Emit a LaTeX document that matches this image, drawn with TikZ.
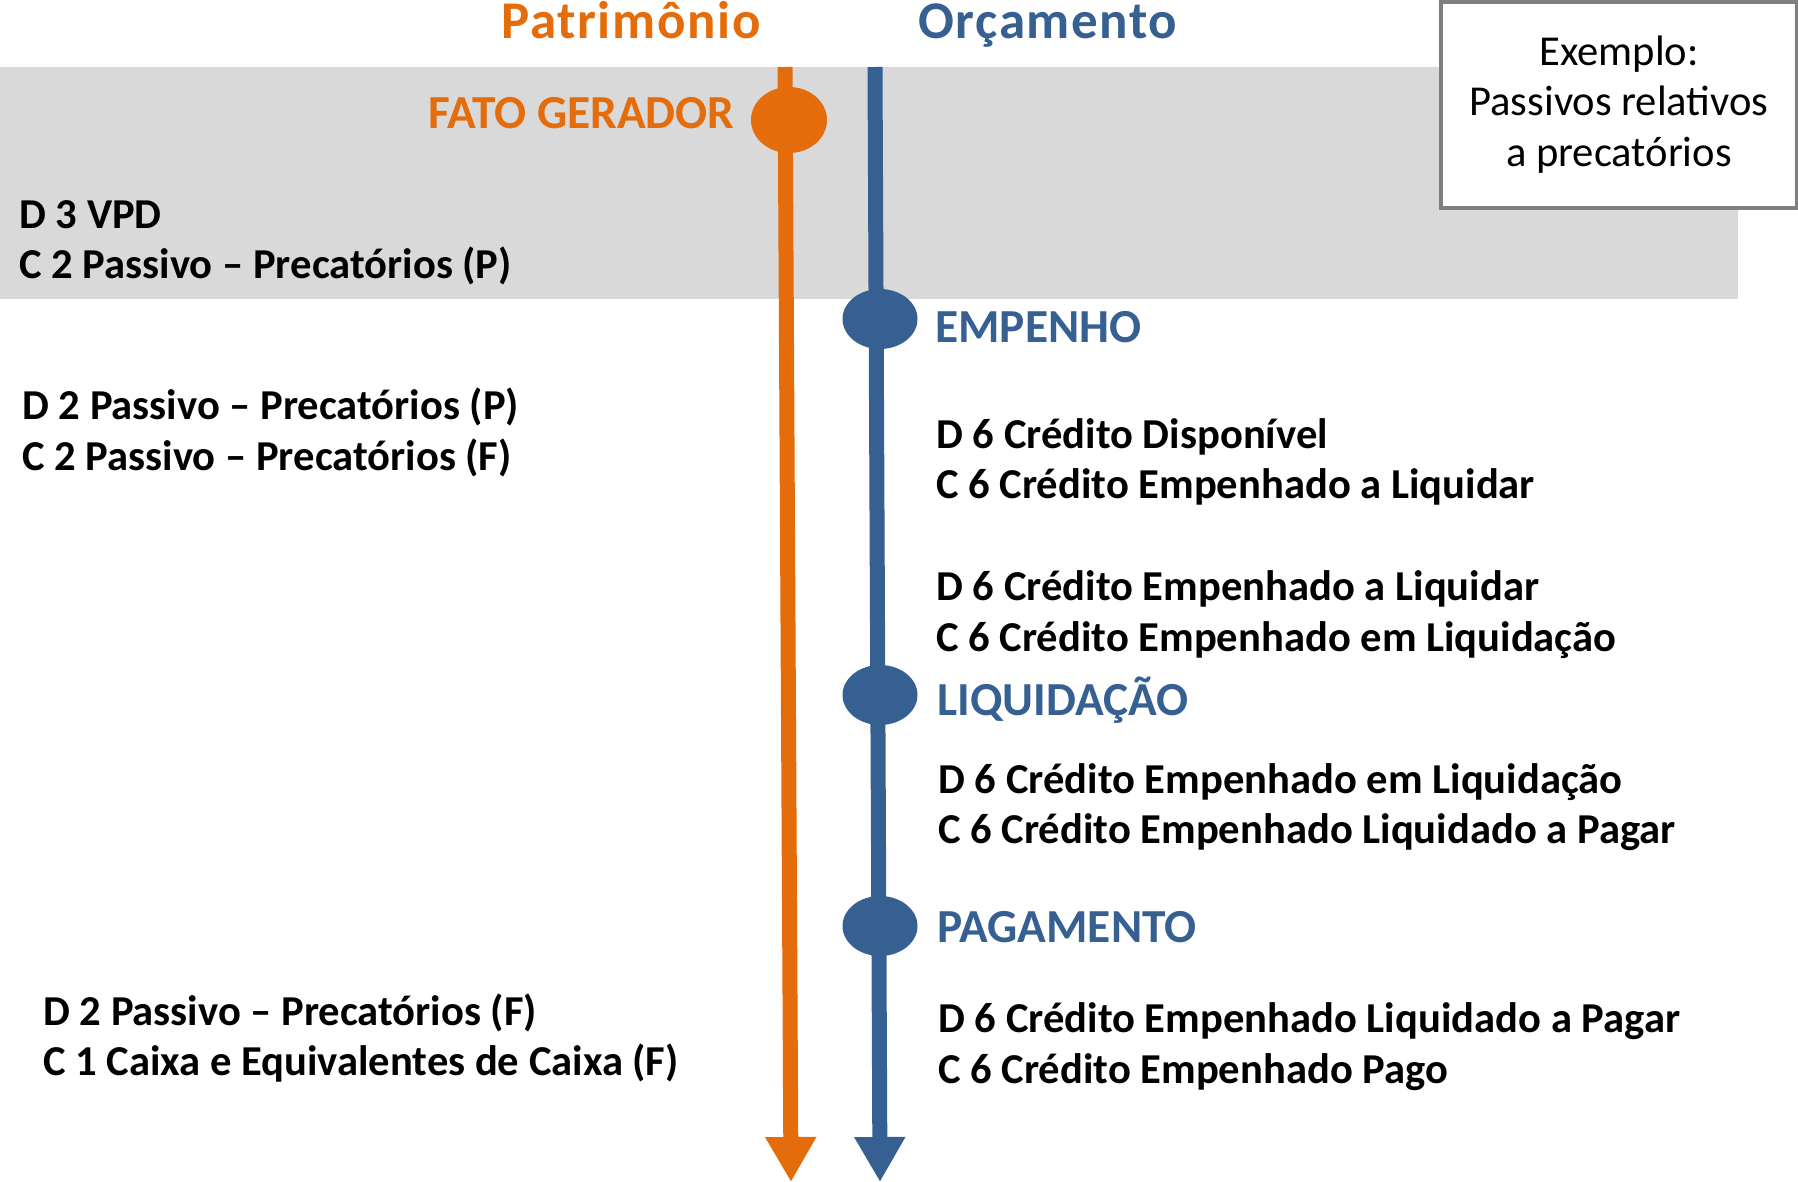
\documentclass[tikz,border=0pt]{standalone}
\usepackage{fontspec}
\setmainfont{Carlito}
\usetikzlibrary{arrows.meta,shapes.geometric}
\definecolor{patorange}{HTML}{E46C0A}
\definecolor{orcblue}{HTML}{366092}
\definecolor{bandgray}{HTML}{D9D9D9}
\definecolor{boxgray}{HTML}{7F7F7F}

\begin{document}
\begin{tikzpicture}[
    x=0.5pt, y=-0.5pt,
    title/.style={
        font=\fontsize{26.5}{32}\selectfont\bfseries\addfontfeature{LetterSpace=3},
        anchor=base,
        inner sep=0pt
    },
    phase/.style={
        font=\fontsize{23.7}{29}\selectfont\bfseries,
        inner sep=0pt
    },
    entry/.style={
        font=\fontsize{21.3}{25.25}\selectfont\bfseries,
        anchor=base west,
        align=left,
        inner sep=0pt
    },
    event/.style={
        ellipse,
        inner sep=0pt,
        minimum width=37.5pt,
        minimum height=30pt
    },
    axis/.style={-{Triangle[width=24pt,length=22.5pt]},line width=7.5pt}
]
\useasboundingbox (0,0) rectangle (1798,1182);

% Shaded band of the generating fact
\fill[bandgray] (0,67) rectangle (1738,299);

% Example box
\node[draw=boxgray,line width=2pt,fill=white,minimum width=178pt,minimum height=103pt,
    inner sep=0pt] (exbox) at (1619,105) {};
\node[font=\fontsize{21.3}{25.25}\selectfont,align=center,anchor=base] (extext) at (1619,166.3)
    {Exemplo:\\Passivos relativos\\a precatórios};

% Column titles
\node[title,text=patorange] (patrim) at (631,39) {Patrimônio};
\node[title,text=orcblue] (orcam) at (1048,38.5) {Orçamento};

% Time axes
\coordinate (patTop) at (785,67);
\coordinate (patEnd) at (791,1182);
\coordinate (orcTop) at (875,67);
\coordinate (orcEnd) at (880,1182);
\draw[axis,patorange] (patTop) -- (patEnd);
\draw[axis,orcblue] (orcTop) -- (orcEnd);

% Events on the axes
\node[event,fill=patorange,minimum height=33pt,minimum width=38pt] (fato) at (789,120) {};
\node[event,fill=orcblue] (empenho) at (880,319) {};
\node[event,fill=orcblue] (liquid) at (880,695) {};
\node[event,fill=orcblue] (pagam) at (880,926) {};

\node[phase,text=patorange,anchor=base east] (fatolbl) at (735,128.5) {FATO GERADOR};
\node[phase,text=orcblue,anchor=base west] (emplbl) at (935,343) {EMPENHO};
\node[phase,text=orcblue,anchor=base west] (liqlbl) at (937,715) {LIQUIDAÇÃO};
\node[phase,text=orcblue,anchor=base west] (paglbl) at (937,942) {PAGAMENTO};

% Entries on the patrimonial side (placed at the baseline of the last line)
\node[entry] (pat1) at (19,278.5) {D 3 VPD\\C 2 Passivo – Precatórios (P)};
\node[entry] (pat2) at (22,470) {D 2 Passivo – Precatórios (P)\\C 2 Passivo – Precatórios (F)};
\node[entry] (pat3) at (43,1075.5) {D 2 Passivo – Precatórios (F)\\C 1 Caixa e Equivalentes de Caixa (F)};

% Entries on the budget side
\node[entry] (orc1) at (936,498.5) {D 6 Crédito Disponível\\C 6 Crédito Empenhado a Liquidar};
\node[entry] (orc2) at (936,651) {D 6 Crédito Empenhado a Liquidar\\C 6 Crédito Empenhado em Liquidação};
\node[entry] (orc3) at (938,843.7) {D 6 Crédito Empenhado em Liquidação\\C 6 Crédito Empenhado Liquidado a Pagar};
\node[entry] (orc4) at (938,1083.3) {D 6 Crédito Empenhado Liquidado a Pagar\\C 6 Crédito Empenhado Pago};

\end{tikzpicture}
\end{document}
